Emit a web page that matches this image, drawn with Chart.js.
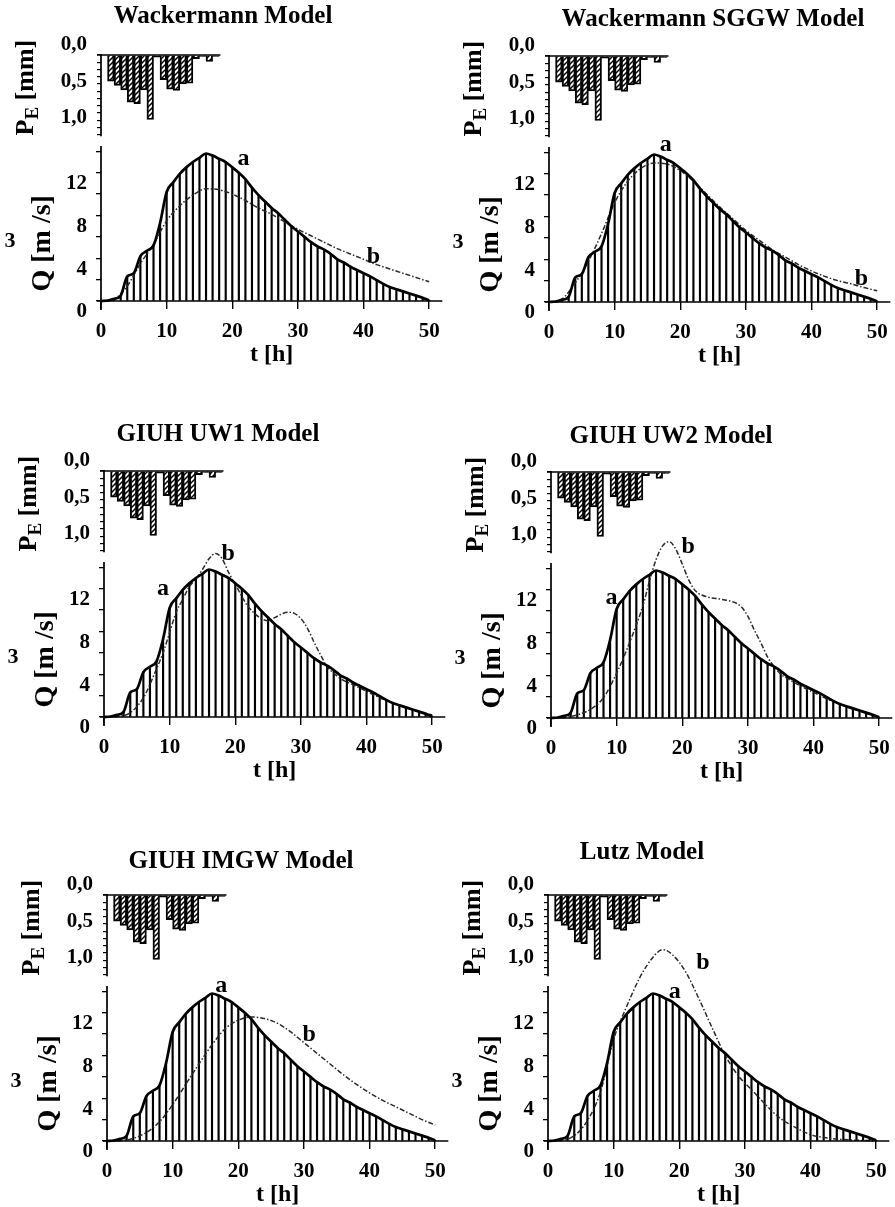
<!DOCTYPE html>
<html lang="en"><head><meta charset="utf-8">
<title>Hydrographs – observed (a) and modelled (b)</title>
<script src="https://cdn.jsdelivr.net/npm/chart.js@4.4.1/dist/chart.umd.min.js"></script>
<style>
html,body{margin:0;padding:0;background:#fff}
body{width:895px;height:1207px;position:relative;overflow:hidden}
canvas{position:absolute}
</style></head><body>
<script>
// ---------------- data ----------------
const hours = [0,1,2,3,4,5,6,7,8,9,10,11,12,13,14,15,16,17,18,19,20,21,22,23,24,25,26,27,28,29,30,31,32,33,34,35,36,37,38,39,40,41,42,43,44,45,46,47,48,49,50];
const observedQ = [0,0.05,0.2,0.5,2.3,2.6,4.2,4.7,5.2,7.3,10.2,11.1,11.9,12.5,13.0,13.4,13.8,13.6,13.3,13.0,12.5,12.0,11.4,10.6,9.9,9.3,8.7,8.2,7.6,7.0,6.5,6.0,5.5,5.1,4.8,4.4,3.9,3.6,3.2,2.9,2.6,2.3,1.95,1.6,1.3,1.1,0.9,0.7,0.5,0.3,0.05];

const rainHour = [1,2,3,4,5,6,7,8,9,10,11,12,13,14,15,16,17];
const rainPE   = [0.36,0.42,0.48,0.65,0.67,0.48,0.89,0.03,0.34,0.47,0.49,0.40,0.39,0.05,0.02,0.09,0.02];

const wackT = [0,2,4,6,8,10,12,14,16,18,20,22,24,26,28,30,32,34,36,38,40,42,44,46,48,50];
const wackQ = [0,0.2,1.4,3.5,5.3,7.5,8.9,9.9,10.5,10.4,10.0,9.4,8.7,8.1,7.4,6.7,6.1,5.5,4.9,4.4,3.9,3.4,3.0,2.6,2.2,1.8];

const sggwT = [0,2,4,6,8,10,12,14,16,18,20,22,24,26,28,30,32,34,36,38,40,42,44,46,48,50];
const sggwQ = [0,0.3,1.8,3.8,6.4,9.3,11.3,12.5,13.0,12.9,12.3,11.3,10.1,8.9,7.8,6.7,5.8,4.9,4.2,3.5,2.9,2.4,2.0,1.7,1.35,1.05];

const uw1T = [0,2,4,6,8,9,10,11,12,13,14,15,16,17,18,19,20,22,24,25,26,28,29,30,31,32,33,34,35,36,38,40,42,44,46,48,50];
const uw1Q = [0,0.05,0.4,1.8,4.5,6.0,7.9,9.8,11.0,12.2,12.9,13.8,14.8,15.3,14.8,13.5,12.4,10.3,9.2,9.0,9.3,9.8,9.7,9.2,8.3,7.0,5.8,4.7,4.1,3.6,3.0,2.4,1.8,1.3,0.9,0.5,0.2];

const uw2T = [0,2,4,6,8,10,12,14,15,16,17,18,19,20,21,22,24,26,28,29,30,31,32,33,34,35,36,38,40,42,44,46,48,50];
const uw2Q = [0,0.05,0.3,0.8,1.9,4.2,7.1,10.5,12.8,14.8,16.1,16.5,15.8,14.4,12.9,11.9,11.3,11.1,10.8,10.4,9.5,8.2,7.0,5.7,4.8,4.1,3.7,3.0,2.4,1.8,1.3,0.85,0.45,0.15];

const imgwT = [0,2,4,6,8,10,12,14,16,18,20,22,24,26,28,30,32,34,36,38,40,42,44,46,48,50];
const imgwQ = [0,0.03,0.25,0.8,1.8,3.4,5.3,7.2,9.0,10.5,11.3,11.6,11.45,11.0,10.2,9.2,8.2,7.2,6.2,5.3,4.5,3.8,3.2,2.6,2.0,1.5];

const lutzT = [0,2,4,6,8,10,12,14,16,17.5,19,21,23,25,27,29,31,33,35,37,40,43,46,50];
const lutzQ = [0,0.05,0.5,1.9,4.6,9.5,12.6,15.3,17.2,17.9,17.4,15.8,13.3,10.6,8.0,6.1,4.8,3.5,2.3,1.5,0.6,0.25,0.1,0.02];

const xTickValues = [0,10,20,30,40,50];
const qTickValues = [0,2,4,6,8,10,12,14];
const qLabelValues = [0,4,8,12];
const rainTickValues = [0,0.1,0.2,0.3,0.4,0.5,0.6,0.7,0.8,0.9,1.0,1.1];
const rainLabelValues = [0,0.5,1.0];
const panelTitles = ['Wackermann Model','Wackermann SGGW Model','GIUH UW1 Model','GIUH UW2 Model','GIUH IMGW Model','Lutz Model'];

// ---------------- layout / style ----------------
const FONT = "'Liberation Serif','Times New Roman',serif";
const RAIN_AXIS_END = 1.12;
const panels = [
  {title:panelTitles[0], modelT:wackT, modelQ:wackQ, left:0,   top:0,   titleAt:[223,17],  aAt:[21.7,13.3], bAt:[41.5,4.1]},
  {title:panelTitles[1], modelT:sggwT, modelQ:sggwQ, left:448, top:1,   titleAt:[265,19],  aAt:[17.8,14.7], bAt:[47.6,2.2]},
  {title:panelTitles[2], modelT:uw1T,  modelQ:uw1Q,  left:3,   top:416, titleAt:[215,19],  aAt:[9.0,12.0],  bAt:[18.9,15.3]},
  {title:panelTitles[3], modelT:uw2T,  modelQ:uw2Q,  left:450, top:417, titleAt:[221,20],  aAt:[9.2,11.2],  bAt:[20.9,16.0]},
  {title:panelTitles[4], modelT:imgwT, modelQ:imgwQ, left:6,   top:840, titleAt:[235,22],  aAt:[17.4,14.5], bAt:[30.8,9.9]},
  {title:panelTitles[5], modelT:lutzT, modelQ:lutzQ, left:447, top:840, titleAt:[195,13],  aAt:[19.3,14.0], bAt:[23.6,16.7]}
];

function makeHatch() {
  const pc = document.createElement('canvas');
  pc.width = 5; pc.height = 5;
  const g = pc.getContext('2d');
  g.strokeStyle = '#000'; g.lineWidth = 1.5;
  g.beginPath();
  g.moveTo(0,5); g.lineTo(5,0);
  g.moveTo(-1,1); g.lineTo(1,-1);
  g.moveTo(4,6); g.lineTo(6,4);
  g.stroke();
  return g.createPattern(pc, 'repeat');
}

function drawRotated(ctx, parts, cx, cy) {
  ctx.save();
  ctx.translate(cx, cy);
  ctx.rotate(-Math.PI/2);
  ctx.textAlign = 'left'; ctx.textBaseline = 'alphabetic';
  let total = 0;
  parts.forEach(p => { ctx.font = `bold ${p.size}px ${FONT}`; p.w = ctx.measureText(p.text).width; total += p.w; });
  let u = -total/2;
  parts.forEach(p => { ctx.font = `bold ${p.size}px ${FONT}`; ctx.fillText(p.text, u, p.dy); u += p.w; });
  ctx.restore();
}

const decor = {
  id: 'decor',
  afterDraw(chart, args, opts) {
    const p = opts.panel;
    const {ctx, chartArea} = chart;
    const x = chart.scales.x, q = chart.scales.yQ, r = chart.scales.yR;
    const x0 = x.getPixelForValue(0), q0 = q.getPixelForValue(0), r0 = r.getPixelForValue(0);
    ctx.save();
    ctx.strokeStyle = '#000'; ctx.lineWidth = 1.7;
    ctx.beginPath();
    ctx.moveTo(x0 - 4, q0); ctx.lineTo(chartArea.right, q0);              // t axis
    ctx.moveTo(x0, q.top); ctx.lineTo(x0, q0 + 9);                        // Q axis
    ctx.moveTo(x0, r0 - 1); ctx.lineTo(x0, r.getPixelForValue(RAIN_AXIS_END)); // P axis
    ctx.moveTo(x0 - 4, r0); ctx.lineTo(x.getPixelForValue(rainHour[rainHour.length-1] + 1.2), r0);
    ctx.stroke();

    ctx.fillStyle = '#000';
    ctx.textAlign = 'center'; ctx.textBaseline = 'middle';
    ctx.font = `bold 25px ${FONT}`;
    ctx.fillText(p.title, p.titleAt[0], p.titleAt[1]);

    ctx.font = `bold 24px ${FONT}`;
    ctx.fillText('a', x.getPixelForValue(p.aAt[0]), q.getPixelForValue(p.aAt[1]));
    ctx.fillText('b', x.getPixelForValue(p.bAt[0]), q.getPixelForValue(p.bAt[1]));

    // Q [m3/s]
    drawRotated(ctx, [{text:'Q [m /s]', size:28, dy:9}], x0 - 60, q.getPixelForValue(5.4));
    ctx.font = `bold 22px ${FONT}`;
    ctx.fillText('3', x0 - 91, q0 - 60);
    // P_E [mm]
    drawRotated(ctx, [{text:'P', size:26, dy:7}, {text:'E', size:19, dy:12}, {text:' [mm]', size:26, dy:7}], x0 - 75, r.getPixelForValue(0.45));
    ctx.restore();
  }
};

const tickFont = {family: FONT, size: 21, weight: 'bold', lineHeight: 1};
const hatchFill = makeHatch();

panels.forEach(p => {
  const c = document.createElement('canvas');
  c.width = 452; c.height = 375;
  c.style.left = p.left + 'px'; c.style.top = p.top + 'px';
  c.style.width = '452px'; c.style.height = '375px';
  document.body.appendChild(c);

  new Chart(c, {
    type: 'line',
    data: {
      datasets: [
        {type:'line', label:'a', data: hours.map((t,k)=>({x:t, y:observedQ[k]})), xAxisID:'x', yAxisID:'yQ',
          borderColor:'#000', borderWidth:2.7, pointRadius:0, cubicInterpolationMode:'monotone', fill:false, order:0, clip:false},
        {type:'line', label:'b', data: p.modelT.map((t,k)=>({x:t, y:p.modelQ[k]})), xAxisID:'x', yAxisID:'yQ',
          borderColor:'#2a2a2a', borderWidth:1.5, borderDash:[5,2,1.5,2], pointRadius:0, cubicInterpolationMode:'monotone', fill:false, order:1, clip:false},
        {type:'bar', label:'Q hatch', data: hours.map((t,k)=>({x:t, y:observedQ[k]})), xAxisID:'x', yAxisID:'yQ',
          backgroundColor:'#000', borderWidth:0, barThickness:1.5, grouped:false, order:2},
        {type:'bar', label:'PE', data: rainHour.map((h,k)=>({x:h + 0.5, y:rainPE[k]})), xAxisID:'x', yAxisID:'yR',
          backgroundColor:hatchFill, borderColor:'#000', borderWidth:1.3, barThickness:6.6, grouped:false, order:3}
      ]
    },
    options: {
      responsive:false, animation:false, devicePixelRatio:1,
      layout:{padding:{left:0, top:55, right:8, bottom:4}},
      plugins:{legend:{display:false}, tooltip:{enabled:false}, title:{display:false}, decor:{panel:p}},
      scales:{
        x:{type:'linear', position:'bottom', min:0, max:52, offset:false,
          afterBuildTicks: s => { s.ticks = xTickValues.map(v => ({value:v})); },
          afterFit: s => { s.height = 70; },
          grid:{offset:false, drawOnChartArea:false, color:'#000', lineWidth:1.4, tickLength:8},
          border:{display:false},
          ticks:{color:'#000', font:tickFont, padding:12, maxRotation:0, autoSkip:false},
          title:{display:true, text:'t [h]', color:'#000', font:{family:FONT, size:24, weight:'bold', lineHeight:1}, padding:{top:0, bottom:4}}
        },
        yQ:{type:'linear', position:'left', stack:'v', stackWeight:155, weight:1, min:0, max:14.5,
          afterBuildTicks: s => { s.ticks = qTickValues.map(v => ({value:v})); },
          afterFit: s => { s.width = 101; },
          grid:{drawOnChartArea:false, color:'#000', lineWidth:1.3, tickLength:5},
          border:{display:false},
          ticks:{color:'#000', font:tickFont, padding:9, labelOffset:11, autoSkip:false,
            callback: v => qLabelValues.includes(v) ? String(v) : ''}
        },
        yR:{type:'linear', position:'left', stack:'v', stackWeight:91, weight:2, reverse:true, min:0, max:1.255,
          afterBuildTicks: s => { s.ticks = rainTickValues.map(v => ({value:v})); },
          afterFit: s => { s.width = 101; },
          grid:{drawOnChartArea:false, color:'#000', lineWidth:1.2, tickLength:4},
          border:{display:false},
          ticks:{color:'#000', font:tickFont, padding:10, labelOffset:-10, autoSkip:false,
            callback: v => rainLabelValues.some(l => Math.abs(l - v) < 1e-6) ? v.toFixed(1).replace('.', ',') : ''}
        }
      }
    },
    plugins:[decor]
  });
});
</script>
</body></html>
